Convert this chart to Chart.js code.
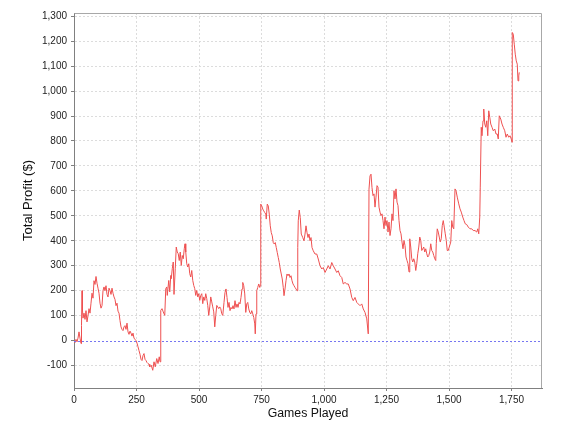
<!DOCTYPE html>
<html><head><meta charset="utf-8">
<script src="https://cdn.jsdelivr.net/npm/chart.js@4/dist/chart.umd.min.js"></script>
<style>html,body{margin:0;padding:0;background:#fff}#wrap{width:568px;height:428px}</style>
</head><body><div id="wrap"><canvas id="c" width="568" height="428"></canvas></div>
<script>
const games = [0,4,8,12,16,20,24,28,30,32,34,36,40,44,48,52,56,60,64,68,72,76,80,84,88,92,96,100,104,108,112,116,120,124,128,132,136,140,144,148,152,156,160,164,168,172,176,180,184,188,192,196,200,204,208,212,216,220,224,228,232,236,240,244,248,252,256,260,264,268,272,276,280,284,288,292,296,300,303,309,315,320,325,331,336,341,344,347,352,357,363,367,371,373,379,383,387,389,393,397,400,405,409,413,417,421,425,429,433,437,441,444,447,451,455,459,463,467,471,475,479,483,487,491,495,499,503,507,511,515,519,523,527,531,535,539,543,547,551,555,559,563,567,571,575,579,583,587,591,595,600,604,608,612,616,620,624,628,632,636,640,644,648,652,656,660,664,668,672,675,679,683,687,691,695,699,703,707,711,715,719,723,725,728,731,735,739,743,745,747,751,755,759,763,767,769,773,777,781,785,789,793,797,801,805,809,813,817,821,825,829,833,837,840,844,848,852,856,860,864,868,872,876,880,884,888,892,895,897,901,905,909,915,920,924,928,932,936,940,944,948,952,957,964,971,977,984,991,997,1004,1011,1017,1024,1031,1037,1044,1051,1057,1064,1071,1077,1084,1091,1097,1104,1111,1117,1124,1131,1137,1144,1151,1157,1164,1171,1177,1180,1184,1188,1192,1196,1200,1204,1208,1212,1216,1220,1224,1228,1232,1236,1240,1244,1248,1252,1256,1260,1264,1268,1272,1276,1280,1284,1288,1292,1296,1300,1304,1308,1312,1316,1320,1324,1328,1332,1336,1340,1343,1347,1351,1355,1359,1363,1367,1371,1375,1379,1383,1387,1391,1395,1399,1403,1407,1411,1415,1419,1423,1427,1431,1435,1439,1443,1447,1449,1453,1457,1461,1465,1469,1473,1477,1481,1485,1489,1493,1497,1501,1507,1511,1515,1519,1524,1528,1533,1539,1544,1549,1555,1560,1565,1571,1577,1584,1591,1597,1604,1611,1615,1619,1623,1625,1629,1632,1636,1639,1643,1647,1651,1655,1659,1663,1667,1672,1677,1683,1688,1693,1697,1701,1707,1712,1717,1723,1728,1733,1739,1744,1749,1752,1753,1757,1761,1765,1769,1773,1776,1779,1781];
const profit = [0,-8,5,-5,10,35,10,-12,60,200,120,90,110,85,120,75,100,128,110,150,190,170,240,225,257,230,210,190,150,130,140,200,215,200,220,185,175,210,200,185,210,190,175,165,140,150,118,110,80,55,45,40,55,60,45,70,35,25,38,30,18,30,10,5,0,-10,-25,-40,-55,-75,-80,-60,-52,-75,-80,-88,-92,-95,-105,-99,-119,-85,-105,-72,-92,-65,-85,121,128,115,101,208,215,181,241,195,261,248,288,315,185,288,375,355,348,321,355,301,341,328,368,388,355,308,295,308,268,255,281,241,221,208,181,201,175,188,161,181,188,148,175,161,188,168,141,101,135,175,155,135,115,55,101,141,135,128,135,128,108,101,153,193,207,173,133,153,120,133,127,140,127,160,133,147,133,153,147,173,207,233,220,187,113,147,153,127,113,107,120,107,93,67,27,107,200,213,227,213,220,547,540,527,520,513,507,487,547,540,507,460,433,420,393,387,393,373,353,333,313,287,267,247,213,180,207,240,267,260,267,253,260,240,227,220,213,207,200,373,480,523,493,427,413,400,427,460,433,413,427,400,413,373,360,347,347,327,300,287,293,273,287,300,287,313,300,287,273,280,260,253,227,233,227,227,207,173,160,173,153,147,140,147,127,113,87,27,607,660,667,613,581,588,535,575,621,615,535,515,501,508,481,448,495,461,481,435,475,421,448,508,481,601,568,608,555,541,481,441,428,395,368,401,381,335,321,308,275,408,375,328,315,328,315,281,308,348,375,415,401,361,368,375,355,368,348,335,341,355,388,361,355,341,328,321,388,448,435,415,395,408,461,481,455,428,401,361,361,375,395,481,455,448,608,601,575,548,528,515,495,481,468,465,455,448,448,441,441,435,448,428,495,615,855,821,881,928,868,855,881,821,921,895,868,855,841,848,828,828,808,901,888,868,855,841,815,828,815,821,808,795,1235,1228,1188,1148,1121,1108,1041,1061,1075];
const xRange = [0, 1872];
const yRange = [-190, 1313];
const xTickValues = [0, 250, 500, 750, 1000, 1250, 1500, 1750];
const yTickValues = [-100, 0, 100, 200, 300, 400, 500, 600, 700, 800, 900, 1000, 1100, 1200, 1300];
const zeroMarker = 0;

const points = games.map((g, i) => ({x: g, y: profit[i]}));

const fmt = v => Number(v).toLocaleString('en-US');

const framePlugin = {
  id: 'framePlugin',
  afterDatasetsDraw(chart) {
    const {ctx, chartArea: a, scales: {y}} = chart;
    const py = Math.round(y.getPixelForValue(zeroMarker)) + 0.5;
    ctx.save();
    ctx.strokeStyle = '#7676f2';
    ctx.lineWidth = 1;
    ctx.setLineDash([2, 2]);
    ctx.beginPath();
    ctx.moveTo(a.left, py);
    ctx.lineTo(a.right, py);
    ctx.stroke();
    ctx.restore();
  },
  afterDraw(chart) {
    const {ctx, chartArea: a} = chart;
    ctx.save();
    ctx.strokeStyle = '#a8a8a8';
    ctx.lineWidth = 1;
    ctx.beginPath();
    ctx.moveTo(Math.round(a.left) + 0.5, Math.round(a.top) + 0.5);
    ctx.lineTo(Math.round(a.right) - 0.5, Math.round(a.top) + 0.5);
    ctx.lineTo(Math.round(a.right) - 0.5, Math.round(a.bottom));
    ctx.stroke();
    ctx.restore();
  }
};

const tickFont = {family: "'Liberation Sans', Arial, sans-serif", size: 10};
const gridColor = c => (c.tick && c.tick.value === zeroMarker && c.scale.axis === 'y') ? 'rgba(0,0,0,0)' : '#dcdcdc';

new Chart(document.getElementById('c'), {
  type: 'scatter',
  data: {
    datasets: [{
      data: points,
      showLine: true,
      borderColor: '#ee5050',
      borderWidth: 1,
      pointRadius: 0,
      tension: 0,
      fill: false
    }]
  },
  options: {
    responsive: false,
    animation: false,
    events: [],
    layout: {padding: {top: 13, right: 26, left: 0, bottom: 0}},
    plugins: {legend: {display: false}, tooltip: {enabled: false}},
    scales: {
      x: {
        type: 'linear',
        min: xRange[0], max: xRange[1],
        afterBuildTicks: s => { s.ticks = xTickValues.map(v => ({value: v})); },
        afterFit: s => { s.height = 40; },
        ticks: {callback: fmt, color: '#222', padding: 3, maxRotation: 0, autoSkip: false, font: tickFont},
        grid: {color: gridColor, tickColor: '#808080', tickLength: 3, tickBorderDash: []},
        border: {color: '#808080', dash: [2, 2]},
        title: {display: true, text: 'Games Played', color: '#111', padding: {top: 0, bottom: 7},
          font: {family: "'Liberation Sans', Arial, sans-serif", size: 12.3}}
      },
      y: {
        type: 'linear',
        min: yRange[0], max: yRange[1],
        afterBuildTicks: s => { s.ticks = yTickValues.map(v => ({value: v})); },
        afterFit: s => { s.width = 74; },
        ticks: {callback: fmt, color: '#222', padding: 4, autoSkip: false, font: tickFont},
        grid: {color: gridColor, tickColor: '#808080', tickLength: 3, tickBorderDash: []},
        border: {color: '#808080', dash: [2, 2]},
        title: {display: true, text: 'Total Profit ($)', color: '#111', padding: {top: 21, bottom: 0},
          font: {family: "'Liberation Sans', Arial, sans-serif", size: 13}}
      }
    }
  },
  plugins: [framePlugin]
});
</script>
</body></html>
